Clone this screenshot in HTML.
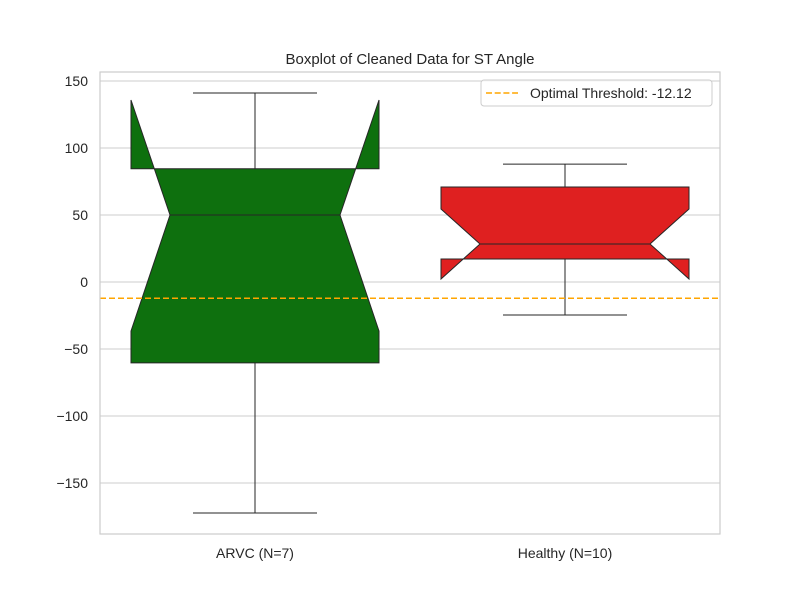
<!DOCTYPE html>
<html><head><meta charset="utf-8">
<style>
body{margin:0;background:#fff;}
svg text{font-family:"Liberation Sans","DejaVu Sans",sans-serif;fill:#262626;}
</style></head>
<body>
<svg id="chart" width="800" height="600" viewBox="0 0 800 600" xmlns="http://www.w3.org/2000/svg">
<rect x="0" y="0" width="800" height="600" fill="#fff"/>
<g id="grid"></g>
<g id="boxes"></g>
<g id="axes"></g>
<text x="410" y="64" text-anchor="middle" font-size="15">Boxplot of Cleaned Data for ST Angle</text>
</svg>
<script>
const categories = ["ARVC (N=7)", "Healthy (N=10)"];
const whiskerHigh = [141, 88];
const q3Values = [84.5, 70.9];
const medians = [50, 28.4];
const q1Values = [-60.4, 17.2];
const whiskerLow = [-172.4, -24.6];
const notchHigh = [135.8, 54.5];
const notchLow = [-36.6, 2.2];
const colors = ["#0e700e", "#df2020"];
const yTicks = [-150, -100, -50, 0, 50, 100, 150];
const yTickLabels = ["\u2212150", "\u2212100", "\u221250", "0", "50", "100", "150"];
const threshold = -12.12;

const L=100,R=720,T=72,B=534;
const NS="http://www.w3.org/2000/svg";
function y(v){return 282-1.34*v;}
function xc(i){return L+(i+0.5)*(R-L)/categories.length;}
function mk(tag,attrs,parent){const e=document.createElementNS(NS,tag);for(const k in attrs)e.setAttribute(k,attrs[k]);parent.appendChild(e);return e;}
const grid=document.getElementById('grid'),boxes=document.getElementById('boxes'),axes=document.getElementById('axes');
yTicks.forEach((t,i)=>{
  const l=mk('line',{x1:L,x2:R,y1:y(t),y2:y(t),stroke:'#cccccc','stroke-width':1},grid);
  
  
  const tx=mk('text',{x:L-12,y:y(t)+5,'text-anchor':'end','font-size':14},axes);
  tx.textContent=yTickLabels[i];
  
  
});
const halfW=124, notchW=85, capW=62;
categories.forEach((c,i)=>{
  const cx=xc(i);
  const g=mk('g',{},boxes);
  
  
  mk('line',{x1:cx,x2:cx,y1:y(q3Values[i]),y2:y(whiskerHigh[i]),stroke:'#262626','stroke-width':1},g);
  mk('line',{x1:cx,x2:cx,y1:y(q1Values[i]),y2:y(whiskerLow[i]),stroke:'#262626','stroke-width':1},g);
  mk('line',{x1:cx-capW,x2:cx+capW,y1:y(whiskerHigh[i]),y2:y(whiskerHigh[i]),stroke:'#262626','stroke-width':1},g);
  mk('line',{x1:cx-capW,x2:cx+capW,y1:y(whiskerLow[i]),y2:y(whiskerLow[i]),stroke:'#262626','stroke-width':1},g);
  const l=cx-halfW,r=cx+halfW,il=cx-notchW,ir=cx+notchW;
  const pts=[[l,y(q3Values[i])],[r,y(q3Values[i])],[r,y(notchHigh[i])],[ir,y(medians[i])],[r,y(notchLow[i])],[r,y(q1Values[i])],[l,y(q1Values[i])],[l,y(notchLow[i])],[il,y(medians[i])],[l,y(notchHigh[i])]];
  mk('polygon',{points:pts.map(p=>p.join(',')).join(' '),fill:colors[i],stroke:'#262626','stroke-width':1},g);
  mk('line',{x1:il,x2:ir,y1:y(medians[i]),y2:y(medians[i]),stroke:'#262626','stroke-width':1},g);
  const tx=mk('text',{x:cx,y:558,'text-anchor':'middle','font-size':14},axes);
  tx.textContent=c;
  
  
});
const th=mk('line',{x1:L,x2:R,y1:y(threshold),y2:y(threshold),stroke:'#ffa500','stroke-width':1.6,'stroke-dasharray':'6,3'},boxes);


const sp=mk('rect',{x:L,y:T,width:R-L,height:B-T,fill:'none',stroke:'#cccccc','stroke-width':1.2},axes);


const lg=mk('g',{},axes);


mk('rect',{x:481,y:80,width:231,height:26,rx:3,fill:'#fff','fill-opacity':0.8,stroke:'#cccccc'},lg);
mk('line',{x1:486,x2:518,y1:93,y2:93,stroke:'#ffa500','stroke-width':1.6,'stroke-dasharray':'6,2.7'},lg);
const lt=mk('text',{x:530,y:98,'font-size':14},lg);
lt.textContent='Optimal Threshold: -12.12';


</script>
</body></html>
